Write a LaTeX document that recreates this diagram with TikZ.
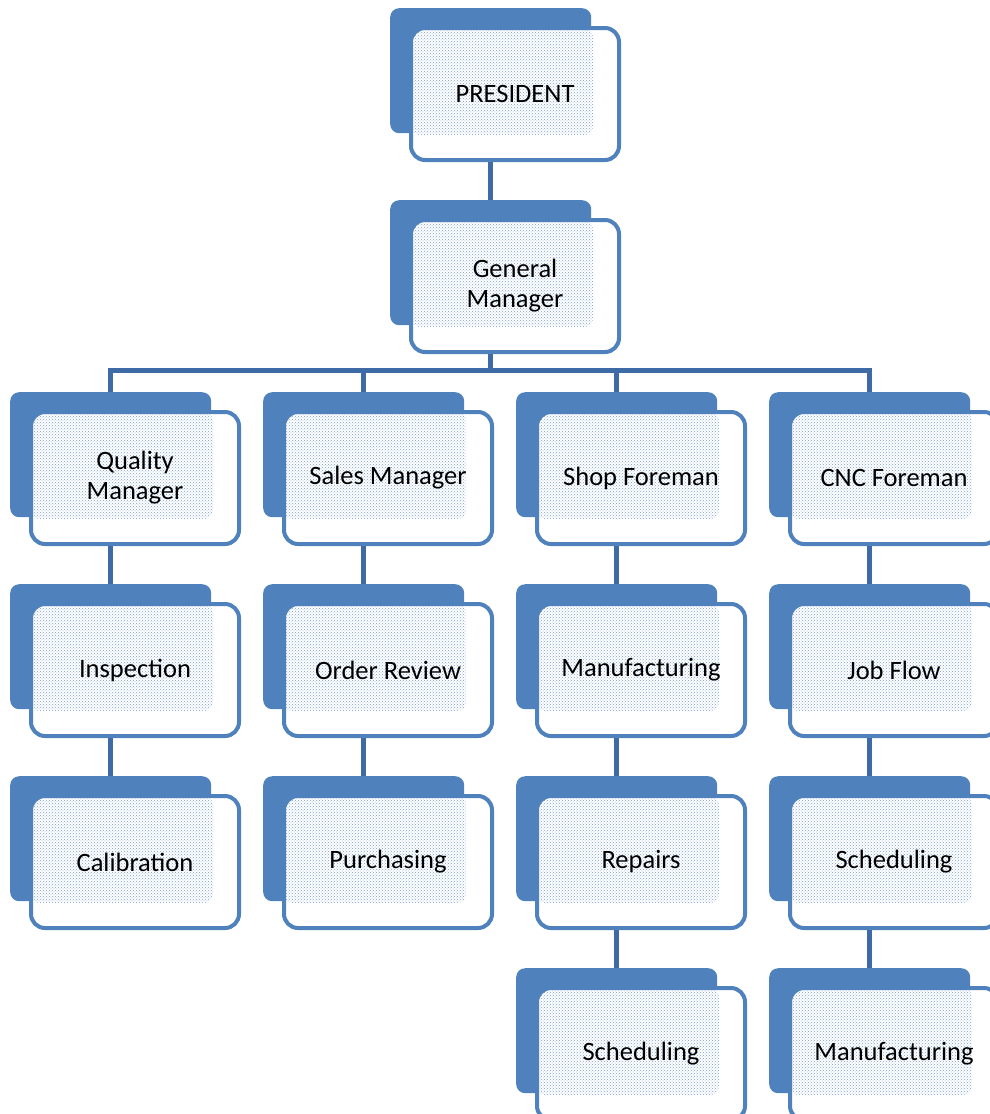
\documentclass[tikz,border=0pt]{standalone}
\usepackage{fontspec}
\setmainfont{Carlito}
\usetikzlibrary{patterns,backgrounds,calc}
\definecolor{boxblue}{RGB}{79,129,189}
\definecolor{lineblue}{RGB}{62,106,165}
\definecolor{dotblue}{RGB}{128,160,208}

\begin{document}
\begin{tikzpicture}[x=1pt, y=-1pt,
    back/.style={fill=boxblue, rounded corners=9pt, minimum width=201pt,
        minimum height=125pt, inner sep=0pt, anchor=north west},
    front/.style={draw=boxblue, line width=4pt, fill=white, rounded corners=14pt,
        minimum width=208pt, minimum height=132pt, inner sep=0pt, anchor=north west,
        align=center, font=\fontsize{26.5}{30}\selectfont,
        path picture={\fill[pattern=crosshatch dots, pattern color=dotblue, rounded corners=9pt]
            (path picture bounding box.north west) rectangle
            ([xshift=-26pt,yshift=25pt]path picture bounding box.south east);}},
    conn/.style={draw=lineblue, line width=5pt}]

    \useasboundingbox (0,0) rectangle (989,1114);

    % Top
    \node[back] (presB) at (390,8) {};
    \node[front] (pres) at ([shift={(19,18)}]presB.north west) {PRESIDENT};

    \node[back] (gmB) at (390,200) {};
    \node[front] (gm) at ([shift={(19,18)}]gmB.north west) {General\\Manager};

    % Quality column
    \node[back] (qmB) at (10,392) {};
    \node[front] (qm) at ([shift={(19,18)}]qmB.north west) {Quality\\Manager};
    \node[back] (inspB) at (10,584) {};
    \node[front] (insp) at ([shift={(19,18)}]inspB.north west) {Inspection};
    \node[back] (calibB) at (10,776) {};
    \node[front] (calib) at ([shift={(19,18)}]calibB.north west) {Calibration};

    % Sales column
    \node[back] (salesB) at (263,392) {};
    \node[front] (sales) at ([shift={(19,18)}]salesB.north west) {Sales Manager};
    \node[back] (orderB) at (263,584) {};
    \node[front] (order) at ([shift={(19,18)}]orderB.north west) {Order Review};
    \node[back] (purchB) at (263,776) {};
    \node[front] (purch) at ([shift={(19,18)}]purchB.north west) {Purchasing};

    % Shop column
    \node[back] (shopB) at (516,392) {};
    \node[front] (shop) at ([shift={(19,18)}]shopB.north west) {Shop Foreman};
    \node[back] (manufB) at (516,584) {};
    \node[front] (manuf) at ([shift={(19,18)}]manufB.north west) {Manufacturing};
    \node[back] (repairB) at (516,776) {};
    \node[front] (repair) at ([shift={(19,18)}]repairB.north west) {Repairs};
    \node[back] (schedAB) at (516,968) {};
    \node[front] (schedA) at ([shift={(19,18)}]schedAB.north west) {Scheduling};

    % CNC column
    \node[back] (cncB) at (769,392) {};
    \node[front] (cnc) at ([shift={(19,18)}]cncB.north west) {CNC Foreman};
    \node[back] (jobB) at (769,584) {};
    \node[front] (job) at ([shift={(19,18)}]jobB.north west) {Job Flow};
    \node[back] (schedBB) at (769,776) {};
    \node[front] (schedB) at ([shift={(19,18)}]schedBB.north west) {Scheduling};
    \node[back] (manufCB) at (769,968) {};
    \node[front] (manufC) at ([shift={(19,18)}]manufCB.north west) {Manufacturing};

    % Connectors
    \begin{scope}[on background layer]
        \coordinate (bus) at ($(gmB.south)+(0,45)$);
        \draw[conn] (presB.south) -- (gmB.north);
        \draw[conn] (gmB.south) -- (bus);
        \draw[conn] (qmB.north) |- (bus) -| (cncB.north);
        \draw[conn] (bus -| salesB.north) -- (salesB.north);
        \draw[conn] (bus -| shopB.north) -- (shopB.north);

        \draw[conn] (qmB.south) -- (inspB.north);
        \draw[conn] (inspB.south) -- (calibB.north);

        \draw[conn] (salesB.south) -- (orderB.north);
        \draw[conn] (orderB.south) -- (purchB.north);

        \draw[conn] (shopB.south) -- (manufB.north);
        \draw[conn] (manufB.south) -- (repairB.north);
        \draw[conn] (repairB.south) -- (schedAB.north);

        \draw[conn] (cncB.south) -- (jobB.north);
        \draw[conn] (jobB.south) -- (schedBB.north);
        \draw[conn] (schedBB.south) -- (manufCB.north);
    \end{scope}

\end{tikzpicture}
\end{document}
